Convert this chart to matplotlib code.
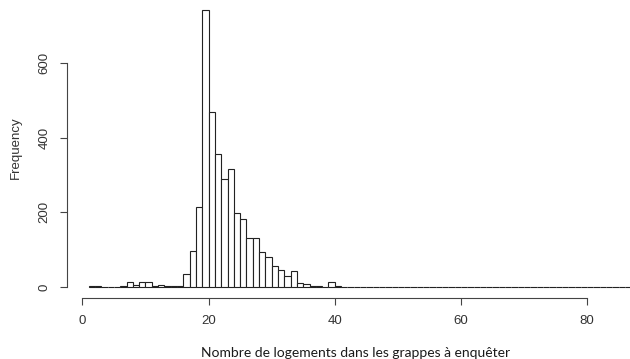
import matplotlib.pyplot as plt
import numpy as np

# bin starts (width 1) and frequencies
bin_starts = list(range(1, 87))
counts = [3, 3, 1, 1, 1, 3, 14, 4, 12, 12,
          3, 5, 3, 3, 3, 34, 97, 214, 743, 470,
          356, 290, 316, 198, 182, 131, 131, 95, 80, 56,
          46, 30, 44, 10, 7, 3, 3, 1, 12, 3,
          1] + [0] * 44 + [1]
x_ticks = [0, 20, 40, 60, 80]
y_ticks = [0, 200, 400, 600]
x_label = "Nombre de logements dans les grappes à enquêter"
y_label = "Frequency"

W, H = 630, 359
fig = plt.figure(figsize=(W / 100, H / 100), dpi=100)
ax = fig.add_axes([67 / W, 61 / H, (653 - 67) / W, 299 / H])

ax.bar(bin_starts, counts, width=1, align="edge", facecolor="white",
       edgecolor="#222222", linewidth=0.8)

ax.set_xlim(-2.44, 90.44)
ax.set_ylim(-29.7, 772.7)

for s in ["top", "right"]:
    ax.spines[s].set_visible(False)
ax.spines["left"].set_bounds(0, 600)
ax.spines["bottom"].set_bounds(0, 80)
for s in ["left", "bottom"]:
    ax.spines[s].set_color("#444444")
    ax.spines[s].set_linewidth(0.8)

ax.set_xticks(x_ticks)
ax.set_yticks(y_ticks)
ax.set_yticklabels([str(v) for v in y_ticks], rotation=90, va="center")
ax.tick_params(direction="out", length=5, width=0.8, color="#444444",
               labelsize=9.5, labelcolor="#333333", pad=7)
for lab in ax.get_xticklabels() + ax.get_yticklabels():
    lab.set_family("Liberation Sans")

fig.text(16 / W, 1 - 148 / H, y_label, rotation=90, ha="center", va="center",
         fontsize=9.5, color="#333333", family="Liberation Sans")
fig.text(356 / W, 1 - 353 / H, x_label, ha="center", va="center",
         fontsize=10, color="#1a1a1a", family="Lato")

fig.savefig("out.png", dpi=100)
